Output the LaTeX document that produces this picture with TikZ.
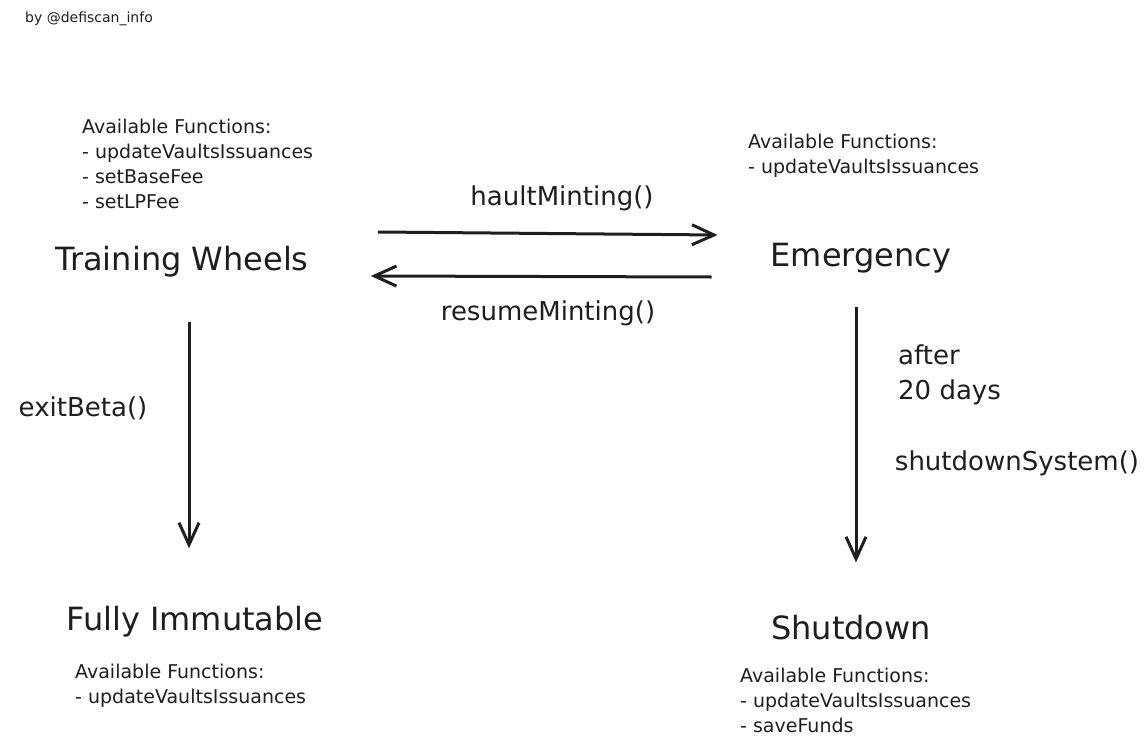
\documentclass[tikz,border=0pt]{standalone}
\usepackage{fontspec}
\setmainfont{DejaVu Sans}
\usetikzlibrary{arrows.meta, positioning}
\definecolor{cInk}{RGB}{30,30,30}
\tikzset{
  phasenode/.style={inner sep=0pt, text=cInk,
                    font=\fontsize{32}{36}\selectfont},
  callnode/.style={inner sep=0pt, text=cInk, align=left,
                   font=\fontsize{26}{35}\selectfont},
  fnlist/.style={inner sep=0pt, anchor=north west, align=left, text=cInk,
                 font=\fontsize{19}{25}\selectfont},
  arrow/.style={-{Straight Barb[length=22pt, width=20pt]}, line width=3pt,
                draw=cInk}
}
\begin{document}
\begin{tikzpicture}[x=1pt, y=-1pt]
  \useasboundingbox (0,0) rectangle (1145,749);
  \node[inner sep=0pt, anchor=west, text=cInk, font=\fontsize{14}{16}\selectfont]
      (credit) at (25,19) {by @defiscan\_info};

  % phases
  \node[phasenode] (tw) at (182,262) {Training Wheels};
  \node[phasenode] (em) at (861,258) {Emergency};
  \node[phasenode] (fi) at (195,622) {Fully Immutable};
  \node[phasenode] (sd) at (851,628) {Shutdown};

  % available functions
  \node[fnlist] (twfn) at (82,119)
      {Available Functions:\\- updateVaultsIssuances\\- setBaseFee\\- setLPFee};
  \node[fnlist] (emfn) at (748,134)
      {Available Functions:\\- updateVaultsIssuances};
  \node[fnlist] (fifn) at (75,664)
      {Available Functions:\\- updateVaultsIssuances};
  \node[fnlist] (sdfn) at (740,668)
      {Available Functions:\\- updateVaultsIssuances\\- saveFunds};

  % transitions
  \node[callnode] (hault) at (562,198) {haultMinting()};
  \node[callnode] (resume) at (548,313) {resumeMinting()};
  \node[callnode] (exit) at (83,408) {exitBeta()};
  \node[callnode, anchor=west] (wait) at (898,375) {after\\20 days};
  \node[callnode] (shut) at (1017,463) {shutdownSystem()};

  \draw[arrow] ([shift={(69,-30)}]tw.east) -- ([shift={(-53,-23)}]em.west);
  \draw[arrow] ([shift={(-59,19)}]em.west) -- ([shift={(62,14)}]tw.east);
  \draw[arrow] ([shift={(7,44)}]tw.south) -- ([shift={(-6,-58)}]fi.north);
  \draw[arrow] ([shift={(-5,34)}]em.south) -- ([shift={(5,-53)}]sd.north);
\end{tikzpicture}
\end{document}
